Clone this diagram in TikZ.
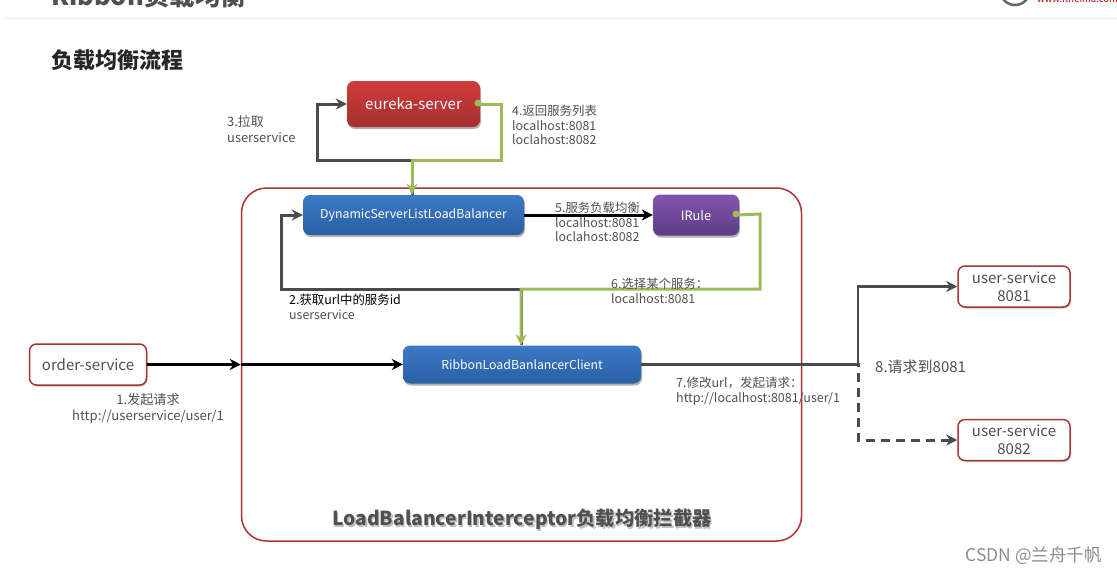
\documentclass[tikz,border=0pt]{standalone}
\usepackage{fontspec}
\setmainfont{Noto Sans CJK SC}
\usetikzlibrary{arrows.meta,shadows}

\definecolor{darkline}{HTML}{484C50}
\definecolor{greenline}{HTML}{9BBB59}
\definecolor{borderred}{HTML}{A93336}
\definecolor{labelgray}{HTML}{505050}
\definecolor{bluetop}{HTML}{3C7AC6}
\definecolor{bluebot}{HTML}{2A5FA3}
\definecolor{redtop}{HTML}{D13B3B}
\definecolor{redbot}{HTML}{A52F2F}
\definecolor{purpletop}{HTML}{8354AE}
\definecolor{purplebot}{HTML}{5C3D85}

\begin{document}
\begin{tikzpicture}[x=1pt,y=-1pt,
    box/.style={rounded corners=7pt,inner sep=0pt,align=center,text=white,
      drop shadow={shadow xshift=1pt,shadow yshift=-2pt,opacity=0.3,fill=black}},
    bluebox/.style={box,top color=bluetop,bottom color=bluebot,font=\fontsize{12.3}{14}\selectfont},
    redbox/.style={box,top color=redtop,bottom color=redbot,font=\fontsize{15}{17}\selectfont},
    purplebox/.style={box,top color=purpletop,bottom color=purplebot,font=\fontsize{12.8}{14}\selectfont},
    servicebox/.style={draw=borderred,line width=1.5pt,fill=white,rounded corners=7pt,inner sep=0pt,align=center,
      text=labelgray,font=\fontsize{15}{18}\selectfont,
      drop shadow={shadow xshift=1pt,shadow yshift=-1.5pt,opacity=0.25,fill=black}},
    note/.style={inner sep=0pt,anchor=north west,align=left,text=labelgray,font=\fontsize{12.4}{14.5}\selectfont},
    arrow/.style={-{Stealth[length=11pt,width=11pt,inset=3.5pt]},line width=3pt,line join=miter},
    darkarrow/.style={arrow,draw=darkline},
    greenarrow/.style={arrow,draw=greenline},
    blackarrow/.style={arrow,draw=black}]
  \useasboundingbox (0,0) rectangle (1117,574);
  \clip (0,0) rectangle (1117,574);

  % page head, cut off by the top edge
  \fill[white] (0,0) rectangle (1117,574);
  \draw[black!8] (5,18) -- (1117,18);
  \node[inner sep=0pt,anchor=base west,text=labelgray,font=\bfseries\fontsize{25.5}{25.5}\selectfont] (pagetitle) at (51,5) {Ribbon负载均衡};
  \draw[black!60,line width=2.5pt] (1000,-10) arc (180:0:15);
  \node[inner sep=0pt,anchor=base west,text=red!75!black,font=\fontsize{9.5}{9.5}\selectfont] (logotext) at (1037,2) {www.itheima.com};
  \node[inner sep=0pt,anchor=west,text=black!85,font=\bfseries\fontsize{22}{22}\selectfont] (flowtitle) at (51,60) {负载均衡流程};

  % outer box
  \node[draw=borderred,line width=1.5pt,rounded corners=25pt,minimum width=560pt,minimum height=353pt,inner sep=0pt] (interceptor) at (521.5,364.5) {};

  % boxes
  \node[redbox,minimum width=133pt,minimum height=46pt] (eureka) at (413.5,104) {eureka-server};
  \node[bluebox,minimum width=221pt,minimum height=40pt] (lb) at (413.5,215) {DynamicServerListLoadBalancer};
  \node[purplebox,minimum width=86pt,minimum height=41pt] (irule) at (696,215) {IRule};
  \node[bluebox,minimum width=238pt,minimum height=38pt] (client) at (522,364.5) {RibbonLoadBanlancerClient};
  \node[servicebox,minimum width=117pt,minimum height=41pt] (order) at (88,364.5) {order-service};
  \node[servicebox,minimum width=112pt,minimum height=41pt] (userone) at (1014,286.5) {user-service\\8081};
  \node[servicebox,minimum width=112pt,minimum height=41pt] (usertwo) at (1014,440) {user-service\\8082};

  % free corners of the lines
  \coordinate (splitup) at (412,160);
  \coordinate (splitdown) at (521,289);
  \coordinate (fork) at (858,364.5);

  % connectors
  \draw[darkarrow] (lb.north -| splitup) -- (splitup) -- (317,160) -- (317,104) -- (eureka.west);
  \draw[greenarrow] (eureka.east) ++(-2,0) -- (501,104) -- (501,160) -- (splitup) -- (lb.north -| splitup);
  \fill[greenline] (478,103) circle (3.5pt);
  \draw[blackarrow] (lb.east) -- (irule.west);
  \draw[darkarrow] (client.north -| splitdown) -- (splitdown) -- (281,289) -- (281,215) -- (lb.west);
  \draw[greenarrow] (irule.east) ++(-2,0) -- (760,214) -- (760,289) -- (splitdown) -- (client.north -| splitdown);
  \fill[greenline] (736,214) circle (3.5pt);
  \draw[blackarrow] (order.east) -- (interceptor.west |- order.east);
  \draw[blackarrow] (interceptor.west |- order.east) -- (client.west);
  \draw[darkarrow,line width=2.4pt] (client.east) -- (fork) -- (858,286.5) -- (userone.west);
  \draw[darkarrow,line width=3pt,dash pattern=on 9pt off 6pt] (client.east) -- (fork) -- (858,440) -- (usertwo.west);

  % labels
  \node[note,font=\fontsize{12.9}{16.5}\selectfont] (pull) at (227,115) {3.拉取\\userservice};
  \node[note] (returnlist) at (512,105) {4.返回服务列表\\localhost:8081\\loclahost:8082};
  \node[note] (balance) at (555,202) {5.服务负载均衡\\localhost:8081\\loclahost:8082};
  \node[note] (choose) at (611,278) {6.选择某个服务：\\localhost:8081};
  \node[note] (getid) at (289,294) {{\color{black}2.获取url中的服务id}\\userservice};
  \node[note,anchor=north,align=center,font=\fontsize{13.1}{16.5}\selectfont] (request) at (148,393) {1.发起请求\\http://userservice/user/1};
  \node[note,font=\fontsize{12.5}{14.5}\selectfont] (rewrite) at (676,377) {7.修改url，发起请求：\\http://localhost:8081/user/1};
  \node[note,font=\fontsize{15}{16}\selectfont] (toport) at (875,360) {8.请求到8081};
  \node[inner sep=0pt,text=black!25,font=\bfseries\fontsize{19.3}{19.3}\selectfont] (titleshadow) at (523.5,521) {LoadBalancerInterceptor负载均衡拦截器};
  \node[inner sep=0pt,text=labelgray,font=\bfseries\fontsize{19.3}{19.3}\selectfont] (intertitle) at (522,519.5) {LoadBalancerInterceptor负载均衡拦截器};
  \node[inner sep=0pt,anchor=east,text=black!45,font=\fontsize{17.5}{17.5}\selectfont] (watermark) at (1102,556) {CSDN @兰舟千帆};
\end{tikzpicture}
\end{document}
